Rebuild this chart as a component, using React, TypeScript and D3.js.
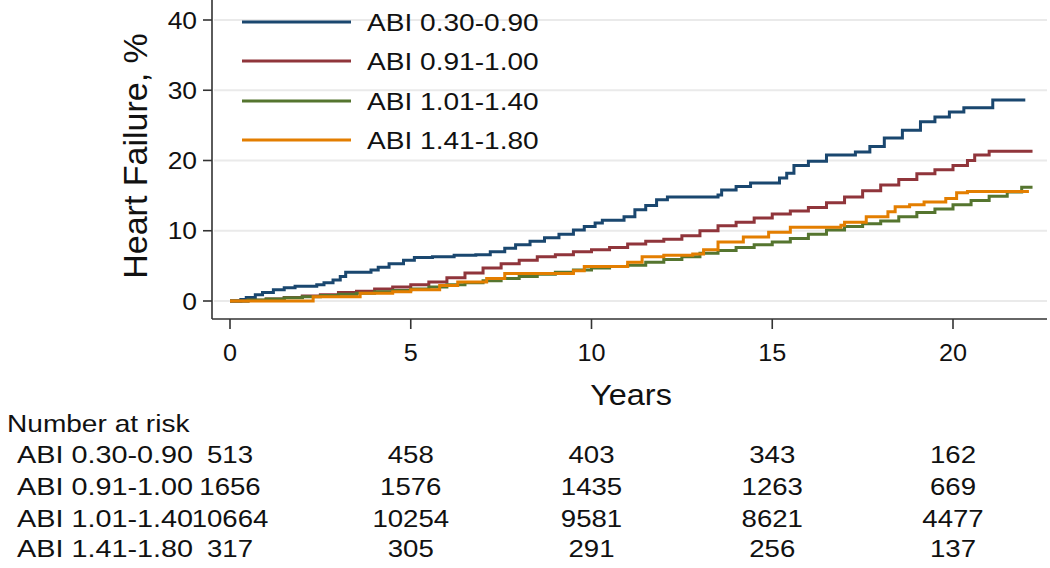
import React from "react";
import * as d3 from "d3";

const seriesNames = ["ABI 0.30-0.90", "ABI 0.91-1.00", "ABI 1.01-1.40", "ABI 1.41-1.80"];
const seriesColors = ["#1a476f", "#90353b", "#55752f", "#e37e00"];

const blue: [number, number][] = [
  [0, 0], [0.3, 0.2], [0.45, 0.5], [0.7, 0.9], [0.9, 1.2], [1.2, 1.6], [1.5, 1.9], [1.8, 2.1], [2.4, 2.3],
  [2.6, 2.6], [2.85, 3.0], [3.05, 3.5], [3.2, 4.1], [3.9, 4.4], [4.1, 4.8], [4.4, 5.3], [4.8, 5.8], [5.1, 6.2],
  [5.6, 6.3], [6.2, 6.5], [6.8, 6.6], [7.2, 7.0], [7.6, 7.5], [7.9, 8.0], [8.3, 8.5], [8.7, 9.0], [9.1, 9.5],
  [9.5, 10.1], [9.8, 10.6], [10.1, 11.1], [10.3, 11.5], [10.9, 12.0], [11.2, 13.0], [11.5, 13.6], [11.8, 14.4],
  [12.1, 14.8], [13.5, 15.1], [13.6, 15.8], [14.0, 16.3], [14.4, 16.8], [15.2, 17.5], [15.4, 18.2], [15.6, 19.3],
  [16.0, 19.9], [16.5, 20.8], [17.3, 21.2], [17.7, 22.0], [18.1, 23.2], [18.6, 24.3], [19.1, 25.5], [19.5, 26.2],
  [19.9, 26.9], [20.3, 27.5], [21.1, 28.6], [22.0, 28.6],
];
const red: [number, number][] = [
  [0, 0], [0.5, 0.1], [1, 0.3], [1.5, 0.5], [2, 0.7], [2.5, 0.9], [3, 1.2], [3.5, 1.4], [4, 1.7], [4.5, 2.0],
  [5, 2.3], [5.5, 2.7], [6, 3.3], [6.5, 4.0], [7, 4.7], [7.5, 5.3], [8, 5.8], [8.5, 6.3], [9, 6.6], [9.5, 7.0],
  [10, 7.3], [10.5, 7.6], [11, 8.1], [11.5, 8.5], [12, 8.8], [12.5, 9.3], [13, 10.0], [13.5, 10.7], [14, 11.2],
  [14.5, 11.8], [15, 12.4], [15.5, 12.8], [16, 13.3], [16.5, 14.0], [17, 14.8], [17.5, 15.7], [18, 16.5],
  [18.5, 17.3], [19, 18.1], [19.5, 18.7], [20, 19.3], [20.4, 20.0], [20.6, 20.8], [21.0, 21.3], [22.2, 21.3],
];
const green: [number, number][] = [
  [0, 0], [0.5, 0.15], [1, 0.3], [1.5, 0.45], [2, 0.6], [2.5, 0.8], [3, 0.95], [3.5, 1.1], [4, 1.3], [4.5, 1.5],
  [5, 1.7], [5.5, 2.0], [6, 2.3], [6.5, 2.6], [7, 2.9], [7.5, 3.2], [8, 3.5], [8.5, 3.8], [9, 4.1], [9.5, 4.4],
  [10, 4.7], [10.5, 4.9], [11, 5.1], [11.5, 5.5], [12, 5.9], [12.5, 6.3], [13, 6.8], [13.5, 7.2], [14, 7.6],
  [14.5, 8.0], [15, 8.4], [15.5, 8.9], [16, 9.5], [16.5, 10.1], [17, 10.6], [17.5, 11.0], [18, 11.4], [18.5, 12.0],
  [19, 12.6], [19.5, 13.1], [20, 13.7], [20.5, 14.3], [21, 14.9], [21.5, 15.5], [21.9, 16.2], [22.2, 16.2],
];
const orange: [number, number][] = [
  [0, 0], [2.2, 0.0], [2.3, 0.6], [3.6, 1.1], [4.5, 1.3], [5, 1.6], [5.8, 2.2], [6.3, 2.7], [7.1, 3.2], [7.6, 3.9],
  [9.2, 3.9], [9.5, 4.3], [9.8, 4.9], [10.6, 4.9], [11.0, 5.5], [11.4, 6.3], [12.0, 6.5], [12.8, 6.7], [13.1, 7.3],
  [13.5, 8.4], [14.2, 9.1], [14.9, 9.8], [15.5, 10.5], [16.9, 10.8], [17.0, 11.2], [17.6, 12.0], [18.2, 12.7],
  [18.4, 13.4], [18.8, 13.7], [19.2, 14.1], [19.8, 14.6], [20.1, 15.4], [20.4, 15.6], [22.1, 15.6],
];
const seriesData = [blue, red, green, orange];

const xTicks = [0, 5, 10, 15, 20];
const yTicks = [0, 10, 20, 30, 40];

const riskTitle = "Number at risk";
const riskRows: number[][] = [
  [513, 458, 403, 343, 162],
  [1656, 1576, 1435, 1263, 669],
  [10664, 10254, 9581, 8621, 4477],
  [317, 305, 291, 256, 137],
];

const FONT = "'Liberation Sans', Arial, sans-serif";

function T(props: {
  x: number;
  y: number;
  size: number;
  sx?: number;
  anchor?: "start" | "middle" | "end";
  dy?: string;
  children: React.ReactNode;
}) {
  const { x, y, size, sx = 1, anchor = "start", dy, children } = props;
  return (
    <text
      transform={`translate(${x},${y}) scale(${sx},1)`}
      textAnchor={anchor}
      fontSize={size}
      dy={dy}
      fill="#111"
    >
      {children}
    </text>
  );
}

export default function App() {
  const x = d3.scaleLinear().domain([0, 20]).range([230, 953]);
  const y = d3.scaleLinear().domain([0, 40]).range([301, 20]);
  const axisLeft = 212;
  const axisBottom = 319;
  const axisRight = 1047;

  const line = d3
    .line<[number, number]>()
    .x((d) => x(d[0]))
    .y((d) => y(d[1]))
    .curve(d3.curveStepAfter);

  const legendY = [22, 61, 101, 140];
  const riskY = [463, 495, 527, 557];

  return (
    <svg
      width={1050}
      height={568}
      style={{ position: "absolute", left: 0, top: 0, background: "#fff" }}
      fontFamily={FONT}
    >
      <rect width={1050} height={568} fill="#fff" />
      {yTicks.map((t) => (
        <line key={"g" + t} x1={axisLeft + 2} x2={axisRight} y1={y(t)} y2={y(t)} stroke="#eaeaea" strokeWidth={2} />
      ))}
      {seriesData.map((d, i) => (
        <path key={"s" + i} d={line(d) || ""} fill="none" stroke={seriesColors[i]} strokeWidth={3} />
      ))}
      <line x1={axisLeft} x2={axisLeft} y1={0} y2={axisBottom} stroke="#333" strokeWidth={1.6} />
      <line x1={axisLeft} x2={axisRight} y1={axisBottom} y2={axisBottom} stroke="#333" strokeWidth={1.6} />
      {yTicks.map((t) => (
        <g key={"yt" + t}>
          <line x1={axisLeft - 9} x2={axisLeft} y1={y(t)} y2={y(t)} stroke="#333" strokeWidth={1.6} />
          <T x={axisLeft - 15} y={y(t)} size={24} sx={1.1} anchor="end" dy="0.36em">
            {t}
          </T>
        </g>
      ))}
      {xTicks.map((t) => (
        <g key={"xt" + t}>
          <line x1={x(t)} x2={x(t)} y1={axisBottom} y2={axisBottom + 10} stroke="#333" strokeWidth={1.6} />
          <T x={x(t)} y={361} size={24} sx={1.05} anchor="middle">
            {t}
          </T>
        </g>
      ))}
      <T x={631} y={405} size={30} sx={1.08} anchor="middle">
        Years
      </T>
      <text transform={`translate(147,156) rotate(-90)`} textAnchor="middle" fontSize={34} fill="#111">
        Heart Failure, %
      </text>
      {seriesNames.map((n, i) => (
        <g key={"l" + i}>
          <line x1={242} x2={351} y1={legendY[i]} y2={legendY[i]} stroke={seriesColors[i]} strokeWidth={3} />
          <T x={367} y={legendY[i]} size={24} sx={1.17} dy="0.36em">
            {n}
          </T>
        </g>
      ))}
      <T x={7} y={432} size={24} sx={1.17}>
        {riskTitle}
      </T>
      {riskRows.map((row, i) => (
        <g key={"r" + i}>
          <T x={17} y={riskY[i]} size={24} sx={1.2}>
            {seriesNames[i]}
          </T>
          {row.map((v, j) => (
            <T key={j} x={x(xTicks[j])} y={riskY[i]} size={24} sx={1.15} anchor="middle">
              {v}
            </T>
          ))}
        </g>
      ))}
    </svg>
  );
}
